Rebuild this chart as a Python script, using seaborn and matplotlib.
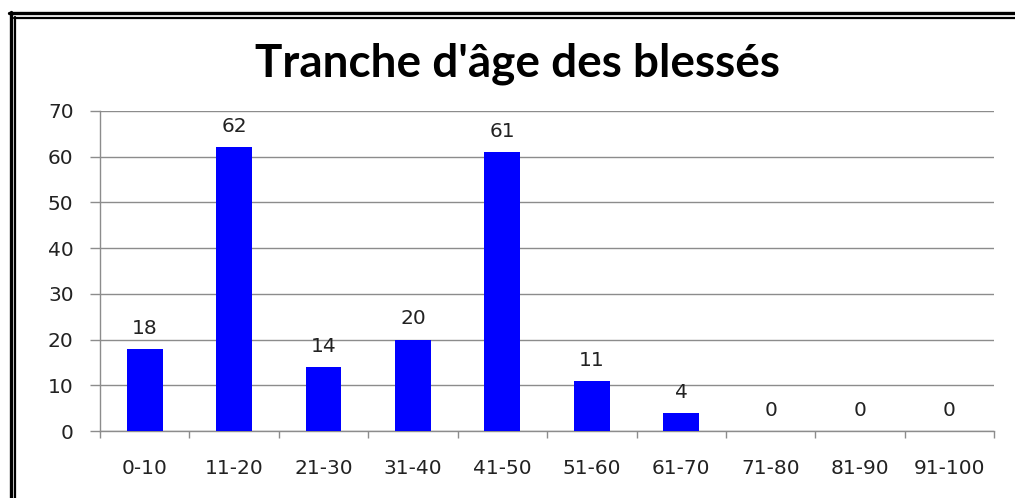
import matplotlib
matplotlib.use("Agg")
import matplotlib.pyplot as plt
import seaborn as sns
import numpy as np
import pandas as pd
from matplotlib.lines import Line2D

# data
tranches = ["0-10", "11-20", "21-30", "31-40", "41-50", "51-60", "61-70", "71-80", "81-90", "91-100"]
blesses = [18, 62, 14, 20, 61, 11, 4, 0, 0, 0]
y_ticks = [0, 10, 20, 30, 40, 50, 60, 70]

sns.set_theme(style="white", rc={"axes.facecolor": "white", "figure.facecolor": "white"})
plt.rcParams["font.family"] = ["DejaVu Sans"]

df = pd.DataFrame({"tranche": tranches, "n": blesses})

fig = plt.figure(figsize=(10.15, 4.98), dpi=100)
ax = fig.add_axes([0.0985, 0.1345, 0.881, 0.643])

sns.barplot(data=df, x="tranche", y="n", color="#0000FF", width=0.4,
            saturation=1, linewidth=0, ax=ax, zorder=3)

ax.set_xlim(-0.5, len(tranches) - 0.5)
ax.set_ylim(0, 70)
ax.set_yticks(y_ticks)
ax.set_xlabel("")
ax.set_ylabel("")

grid_c = "#8c8c8c"
txt_c = "#222222"
ax.yaxis.grid(True, color=grid_c, linewidth=1, zorder=0)
ax.xaxis.grid(False)
for s in ["top", "right"]:
    ax.spines[s].set_visible(False)
for s in ["left", "bottom"]:
    ax.spines[s].set_color(grid_c)
    ax.spines[s].set_linewidth(1)

lab_size = 14.5
ax.set_xticks(np.arange(-0.5, len(tranches)), minor=True)
ax.tick_params(axis="x", which="major", length=0, pad=20, labelsize=lab_size, labelcolor=txt_c)
ax.tick_params(axis="x", which="minor", length=5, width=1, color=grid_c, direction="out", bottom=True)
ax.tick_params(axis="y", which="major", length=7, width=1, color=grid_c, direction="out",
               left=True, pad=12, labelsize=lab_size, labelcolor=txt_c)

for c in ax.containers:
    ax.bar_label(c, labels=[str(v) for v in blesses], padding=8, fontsize=lab_size, color=txt_c)

fig.text(0.51, 0.872, "Tranche d'âge des blessés", ha="center", va="center",
         fontsize=33, fontweight="bold", color="black", family=["Lato", "DejaVu Sans"])

# double frame (top and left visible in the reference)
W, H = 1015, 498
def fx(px): return px / W
def fy(py): return 1 - py / H
fig.add_artist(Line2D([fx(9), 1], [fy(13), fy(13)], color="black", lw=2.4, transform=fig.transFigure))
fig.add_artist(Line2D([fx(14), 1], [fy(18), fy(18)], color="black", lw=1.6, transform=fig.transFigure))
fig.add_artist(Line2D([fx(10.5), fx(10.5)], [fy(12), 0], color="black", lw=2.4, transform=fig.transFigure))
fig.add_artist(Line2D([fx(14.5), fx(14.5)], [fy(17), 0], color="black", lw=1.6, transform=fig.transFigure))

fig.savefig("out.png", dpi=100)
